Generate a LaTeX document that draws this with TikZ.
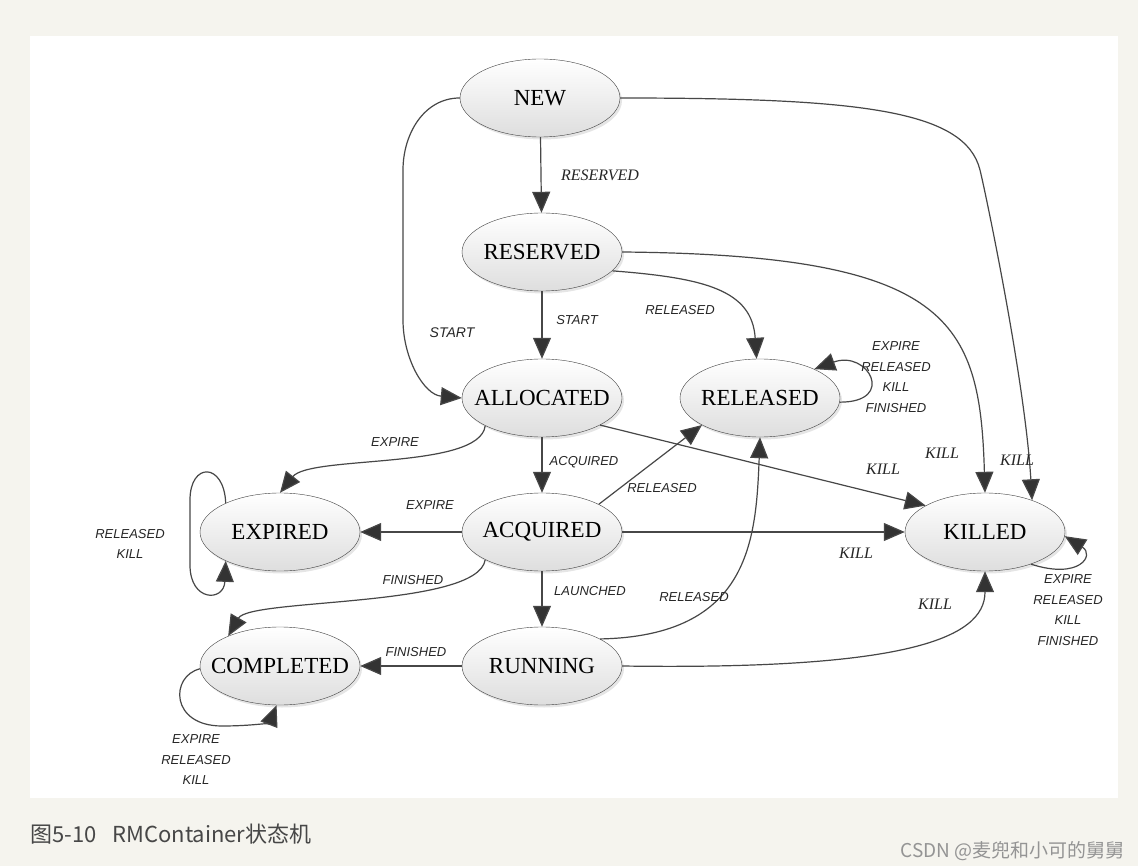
\documentclass[tikz,border=0pt]{standalone}
\usepackage{fontspec}
\setmainfont{Liberation Serif}
\setsansfont{Liberation Sans}
\newfontfamily\cjkfont{Noto Sans CJK SC}
\usetikzlibrary{arrows.meta,shapes.geometric,shadows}
\definecolor{pagebg}{RGB}{245,244,238}

\begin{document}
\begin{tikzpicture}[x=1pt,y=1pt,
  st/.style={draw=black!75, ellipse, minimum width=160pt, minimum height=78pt,
    inner xsep=-30pt, inner ysep=0pt, top color=white, bottom color=black!13,
    drop shadow={shadow xshift=2pt,shadow yshift=-2.5pt,opacity=0.2},
    font=\fontsize{23}{25}\selectfont},
  tr/.style={draw=black!72, line width=1.2pt,
    -{Triangle[length=21pt,width=18pt,fill=black!80]}},
  lb/.style={font=\sffamily\itshape\fontsize{13}{15}\selectfont, text=black!85, inner sep=1pt},
  lk/.style={font=\itshape\fontsize{16}{18}\selectfont, text=black!85, inner sep=1pt},
  ml/.style={align=center, font=\sffamily\itshape\fontsize{13}{20.5}\selectfont, text=black!85, inner sep=1pt}]
\useasboundingbox (0,0) rectangle (1138,-866);
\fill[pagebg] (0,0) rectangle (1138,-866);
\fill[white] (30,-36) rectangle (1118,-798);

% states
\node[st] (NEW) at (540,-98) {NEW};
\node[st] (RESERVED) at (542,-252) {RESERVED};
\node[st] (ALLOCATED) at (542,-398) {ALLOCATED};
\node[st] (RELEASED) at (760,-398) {RELEASED};
\node[st] (EXPIRED) at (280,-532) {EXPIRED};
\node[st] (ACQUIRED) at (542,-532) {ACQUIRED};
\node[st] (KILLED) at (985,-532) {KILLED};
\node[st] (COMPLETED) at (280,-666) {COMPLETED};
\node[st] (RUNNING) at (542,-666) {RUNNING};

% transitions
\draw[tr] (NEW) -- (RESERVED);
\draw[tr] (NEW.west) to[out=180,in=90] (403,-170) -- (403,-320) to[out=-90,in=175] (ALLOCATED.west);
\draw[tr] (NEW.east) .. controls (860,-98) and (965,-110) .. (980,-170)
  .. controls (985,-190) and (1025,-380) .. (KILLED.34);
\draw[tr] (RESERVED) -- (ALLOCATED);
\draw[tr] (RESERVED.-15) .. controls (705,-278) and (752,-290) .. (RELEASED.95);
\draw[tr] (RESERVED.east) .. controls (950,-255) and (980,-320) .. (KILLED.north);
\draw[tr] (RELEASED.-3) to[out=0,in=20,looseness=3.5] (RELEASED.28);
\draw[tr] (ALLOCATED) -- (ACQUIRED);
\draw[tr] (ALLOCATED.-25) -- (KILLED.156);
\draw[tr] (ALLOCATED.206) .. controls (480,-470) and (310,-455) .. (EXPIRED.north);
\draw[tr] (ACQUIRED) -- (EXPIRED);
\draw[tr] (ACQUIRED.26) -- (RELEASED.205);
\draw[tr] (ACQUIRED) -- (KILLED);
\draw[tr] (ACQUIRED.206) .. controls (478,-608) and (250,-598) .. (COMPLETED.150);
\draw[tr] (ACQUIRED) -- (RUNNING);
\draw[tr] (EXPIRED.152) .. controls (224,-462) and (190,-462) .. (190,-500) -- (190,-565)
  .. controls (190,-602) and (224,-602) .. (EXPIRED.208);
\draw[tr] (RUNNING.25) .. controls (750,-636) and (756,-540) .. (RELEASED.south);
\draw[tr] (RUNNING.east) .. controls (900,-670) and (985,-640) .. (KILLED.south);
\draw[tr] (RUNNING) -- (COMPLETED);
\draw[tr] (COMPLETED.182) .. controls (170,-676) and (170,-726) .. (222,-726)
  .. controls (255,-726) and (270,-722) .. (COMPLETED.-95);
\draw[tr] (KILLED.-35) .. controls (1080,-580) and (1095,-555) .. (KILLED.-3);

% labels
\node[lk] (lRes) at (600,-175) {RESERVED};
\node[lb, font=\sffamily\itshape\fontsize{14}{16}\selectfont] (lStartA) at (452,-333) {START};
\node[lk] (lKillA) at (1017,-460) {KILL};
\node[lb] (lStartB) at (577,-320) {START};
\node[lb] (lRelA) at (680,-310) {RELEASED};
\node[lk] (lKillB) at (942,-453) {KILL};
\node[ml] (lLoopRel) at (896,-377) {EXPIRE\\RELEASED\\KILL\\FINISHED};
\node[lb] (lAcq) at (584,-462) {ACQUIRED};
\node[lk] (lKillC) at (883,-469) {KILL};
\node[lb] (lExpA) at (395,-442) {EXPIRE};
\node[lb] (lExpB) at (430,-505) {EXPIRE};
\node[lb] (lRelB) at (662,-488) {RELEASED};
\node[lk] (lKillD) at (856,-553) {KILL};
\node[lb] (lFinA) at (413,-580) {FINISHED};
\node[lb] (lLaun) at (590,-591) {LAUNCHED};
\node[ml] (lLoopExp) at (130,-544) {RELEASED\\KILL};
\node[lb] (lRelC) at (694,-597) {RELEASED};
\node[lk] (lKillE) at (935,-604) {KILL};
\node[lb] (lFinB) at (416,-652) {FINISHED};
\node[ml] (lLoopCom) at (196,-760) {EXPIRE\\RELEASED\\KILL};
\node[ml] (lLoopKil) at (1068,-610) {EXPIRE\\RELEASED\\KILL\\FINISHED};

% caption
\node[anchor=base west, inner sep=0, text=black!72, font=\cjkfont\fontsize{22}{24}\selectfont] (cap) at (30,-842) {图5-10\hspace{16pt}RMContainer状态机};
\node[anchor=base east, inner sep=0, text=black!42, font=\cjkfont\fontsize{19}{21}\selectfont] (wm) at (1125,-857) {CSDN @麦兜和小可的舅舅};
\end{tikzpicture}
\end{document}
